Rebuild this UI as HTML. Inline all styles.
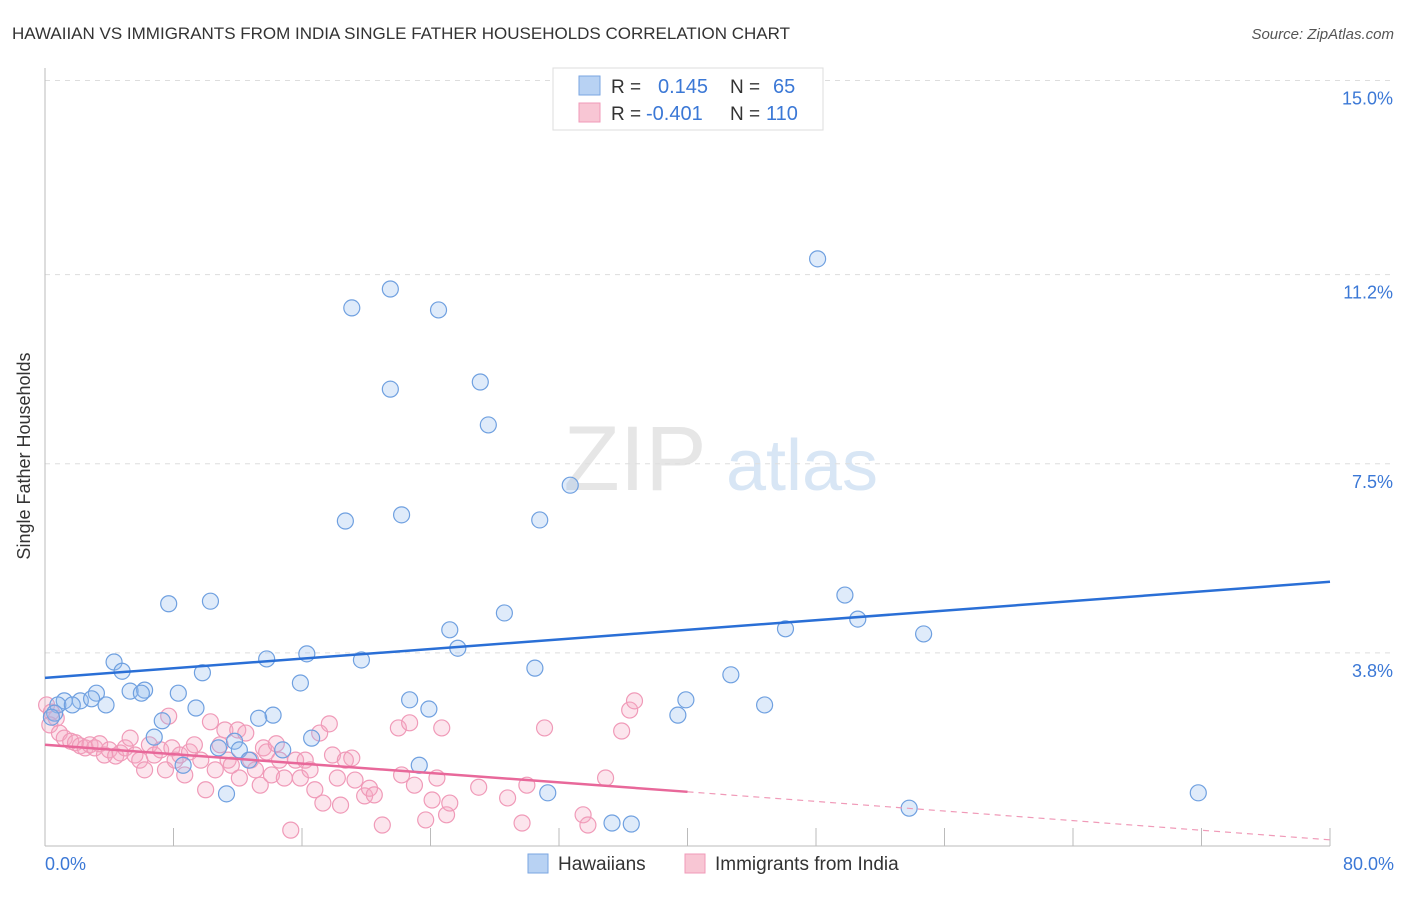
<!DOCTYPE html>
<html><head><meta charset="utf-8"><style>
body{margin:0;background:#fff;font-family:"Liberation Sans",sans-serif;}
svg text{font-family:"Liberation Sans",sans-serif;}
</style></head><body>
<svg id="chart" width="1406" height="892" xmlns="http://www.w3.org/2000/svg">
<text x="12" y="39" font-size="17" fill="#333">HAWAIIAN VS IMMIGRANTS FROM INDIA SINGLE FATHER HOUSEHOLDS CORRELATION CHART</text>
<text x="1394" y="39" font-size="15" fill="#555" font-style="italic" text-anchor="end">Source: ZipAtlas.com</text>
<g><text x="635" y="490" font-size="92" fill="#e6e6e6" font-family="Liberation Serif" text-anchor="middle">ZIP</text><text x="802" y="490" font-size="72" fill="#d8e6f5" text-anchor="middle">atlas</text></g>
<g id="grid"></g>
<line x1="45" y1="68" x2="45" y2="846" stroke="#bbb"/>
<line x1="45" y1="846" x2="1330" y2="846" stroke="#bbb"/>
<g id="xticks"></g>
<text x="30" y="456" font-size="18" fill="#333" transform="rotate(-90 30 456)" text-anchor="middle">Single Father Households</text>
<text x="45" y="870" font-size="18" fill="#3b78d6">0.0%</text>
<text x="1394" y="870" font-size="18" fill="#3b78d6" text-anchor="end">80.0%</text>
<g id="pts"></g>
<g id="trend"></g>
<g>
<rect x="553" y="68" width="270" height="62" fill="#fff" stroke="#ddd"/>
<rect x="579" y="76" width="21" height="19" fill="#b8d2f3" stroke="#7aa6e2"/>
<rect x="579" y="103" width="21" height="19" fill="#f8c6d4" stroke="#f09ab8"/>
<text x="611" y="93" font-size="19" fill="#333">R =</text><text x="658" y="93" font-size="20" fill="#3b78d6">0.145</text>
<text x="730" y="93" font-size="19" fill="#333">N =</text><text x="773" y="93" font-size="20" fill="#3b78d6">65</text>
<text x="611" y="120" font-size="19" fill="#333">R =</text><text x="646" y="120" font-size="20" fill="#3b78d6">-0.401</text>
<text x="730" y="120" font-size="19" fill="#333">N =</text><text x="766" y="120" font-size="20" fill="#3b78d6">110</text>
</g>
<g>
<rect x="528" y="854" width="20" height="19" fill="#b8d2f3" stroke="#7aa6e2"/>
<text x="558" y="870" font-size="19" fill="#333">Hawaiians</text>
<rect x="685" y="854" width="20" height="19" fill="#f8c6d4" stroke="#f09ab8"/>
<text x="715" y="870" font-size="19" fill="#333">Immigrants from India</text>
</g>
</svg>
<script>
const yTicks=[3.8,7.5,11.2,15.0];
const yTickLabels=["3.8%","7.5%","11.2%","15.0%"];
const xTicks=[0,8,16,24,32,40,48,56,64,72,80];
const blueX=[48.1,21.5,19.1,24.5,27.1,21.5,27.6,32.7,18.7,22.2,30.8,49.8,7.7,10.3,28.6,50.6,54.7,46.1,25.2,25.7,16.3,13.8,19.7,4.3,4.8,9.8,30.5,42.7,15.9,3.2,8.3,5.3,6.2,6.0,1.2,2.2,2.9,0.8,1.7,3.8,9.4,22.7,23.9,39.9,44.8,14.2,13.3,39.4,7.3,0.6,0.4,16.6,6.8,11.8,10.8,12.1,14.8,12.7,23.3,8.6,31.3,11.3,71.8,53.8,35.3,36.5];
const blueY=[11.51,10.92,10.55,10.51,9.10,8.96,8.26,7.08,6.38,6.50,6.40,4.93,4.76,4.81,4.58,4.46,4.17,4.27,4.25,3.89,3.78,3.68,3.66,3.62,3.44,3.41,3.50,3.37,3.21,3.01,3.01,3.05,3.07,3.01,2.86,2.86,2.90,2.78,2.78,2.78,2.72,2.88,2.70,2.88,2.78,2.58,2.52,2.58,2.47,2.62,2.54,2.13,2.15,2.07,1.94,1.90,1.90,1.70,1.60,1.60,1.06,1.04,1.06,0.76,0.47,0.45];
const pinkX=[0.1,0.4,0.7,0.3,0.9,1.2,1.6,1.9,2.2,2.5,2.8,3.1,3.4,3.7,4.0,4.4,4.7,5.0,5.3,5.6,5.9,6.2,6.5,6.8,7.2,7.5,7.7,7.9,8.1,8.4,8.7,9.0,9.3,9.7,10.0,10.3,10.6,10.9,11.2,11.4,11.6,12.0,12.1,12.5,12.8,13.1,13.4,13.6,13.8,14.1,14.4,14.6,14.9,15.3,15.6,15.9,16.2,16.5,16.8,17.1,17.3,17.7,17.9,18.2,18.4,18.7,19.1,19.3,19.9,20.2,20.5,21.0,22.0,22.2,22.7,23.0,23.7,24.1,24.4,24.7,25.0,25.2,27.0,28.8,29.7,30.0,31.1,33.5,33.8,34.9,35.9,36.4,36.7];
const pinkY=[2.78,2.64,2.52,2.39,2.23,2.13,2.07,2.04,1.98,1.94,2.00,1.94,2.02,1.80,1.90,1.78,1.84,1.94,2.13,1.80,1.70,1.51,2.00,1.80,1.90,1.51,2.56,1.94,1.70,1.80,1.41,1.86,2.00,1.70,1.12,2.45,1.51,2.00,2.29,1.70,1.60,2.29,1.35,2.23,1.70,1.51,1.21,1.94,1.86,1.41,2.02,1.70,1.35,0.33,1.70,1.35,1.70,1.51,1.12,2.23,0.86,2.41,1.80,1.35,0.82,1.70,1.74,1.31,1.00,1.15,1.02,0.43,2.33,1.41,2.43,1.21,0.53,0.92,1.35,2.33,0.63,0.86,1.17,0.96,0.47,1.21,2.33,0.63,0.43,1.35,2.27,2.68,2.86];
const blueTrendX=[0,80];
const blueTrendY=[3.31,5.19];
const pinkTrendX=[0,40,80];
const pinkTrendY=[2.0,1.08,0.14];

const NS="http://www.w3.org/2000/svg";
const sx=v=>45+v*(1285/80);
const sy=v=>847-v*51.1;
function mk(tag,attrs,parent){const e=document.createElementNS(NS,tag);for(const k in attrs)e.setAttribute(k,attrs[k]);parent.appendChild(e);return e;}
const grid=document.getElementById('grid');
yTicks.forEach((t,i)=>{
  const l=mk('line',{x1:45,x2:1395,y1:sy(t),y2:sy(t),stroke:'#ddd','stroke-dasharray':'5,5'},grid);
  
  
  const tx=mk('text',{x:1393,y:sy(t)+24,'font-size':18,fill:'#3b78d6','text-anchor':'end'},grid);
  tx.textContent=yTickLabels[i];
  
  
});
const xt=document.getElementById('xticks');
xTicks.forEach(t=>{
  const l=mk('line',{x1:sx(t),x2:sx(t),y1:828,y2:846,stroke:'#bbb'},xt);
  
  
});
const pts=document.getElementById('pts');
pinkX.forEach((x,i)=>{
  const c=mk('circle',{cx:sx(x),cy:sy(pinkY[i]),r:8,fill:'rgba(245,170,195,0.3)',stroke:'#f09ab8','stroke-width':1.2},pts);
  
  
});
blueX.forEach((x,i)=>{
  const c=mk('circle',{cx:sx(x),cy:sy(blueY[i]),r:8,fill:'rgba(150,190,240,0.3)',stroke:'#6fa0e0','stroke-width':1.2},pts);
  
  
});
const tr=document.getElementById('trend');
const bl=mk('line',{x1:sx(blueTrendX[0]),y1:sy(blueTrendY[0]),x2:sx(blueTrendX[1]),y2:sy(blueTrendY[1]),stroke:'#2a6fd6','stroke-width':2.5},tr);


const pl=mk('line',{x1:sx(pinkTrendX[0]),y1:sy(pinkTrendY[0]),x2:sx(pinkTrendX[1]),y2:sy(pinkTrendY[1]),stroke:'#e8689a','stroke-width':2.5},tr);


const pd=mk('line',{x1:sx(pinkTrendX[1]),y1:sy(pinkTrendY[1]),x2:sx(pinkTrendX[2]),y2:sy(pinkTrendY[2]),stroke:'#f09ab8','stroke-width':1.2,'stroke-dasharray':'6,5'},tr);


</script>
</body></html>
